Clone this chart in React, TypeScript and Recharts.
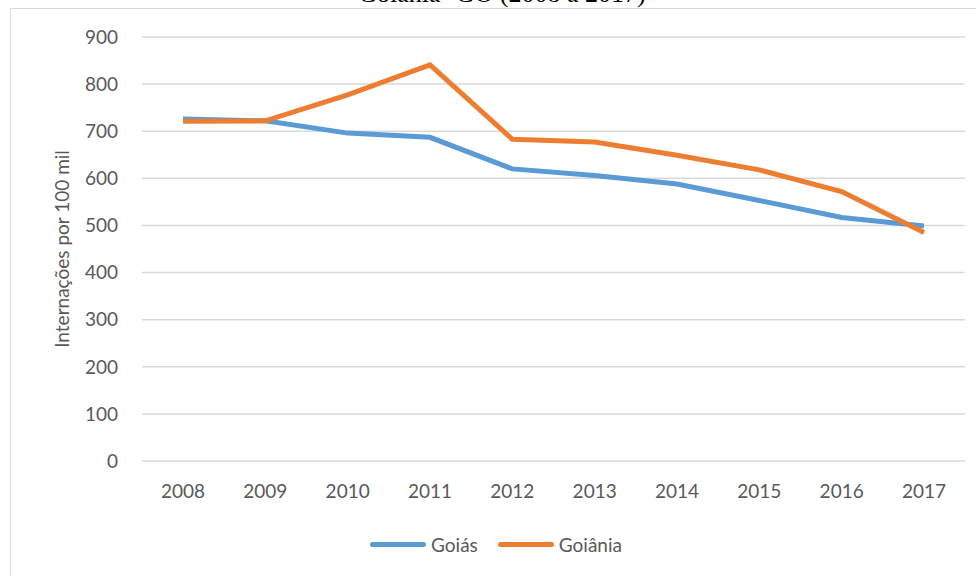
import React from "react";
import {
  LineChart,
  Line,
  XAxis,
  YAxis,
  CartesianGrid,
  Legend,
} from "recharts";

const years = ["2008", "2009", "2010", "2011", "2012", "2013", "2014", "2015", "2016", "2017"];
const goias = [726, 722, 696, 687, 620, 606, 588, 553, 517, 499];
const goiania = [721, 722, 777, 841, 683, 677, 649, 618, 572, 485];
const yTicks = [0, 100, 200, 300, 400, 500, 600, 700, 800, 900];

const data = years.map((year, i) => ({
  year,
  goias: goias[i],
  goiania: goiania[i],
}));

const FONT = "Lato, 'Open Sans', sans-serif";
const TEXT = "#595959";

const renderLegend = (props: any) => {
  const { payload } = props;
  return (
    <div style={{ display: "flex", justifyContent: "center", fontFamily: FONT, fontSize: 19, color: TEXT }}>
      {payload.map((entry: any) => (
        <div key={entry.value} style={{ display: "flex", alignItems: "center", marginRight: 20 }}>
          <span
            style={{
              display: "inline-block",
              width: 56,
              height: 5,
              borderRadius: 3,
              background: entry.color,
              marginRight: 5,
            }}
          />
          <span>{entry.value}</span>
        </div>
      ))}
    </div>
  );
};

const App: React.FC = () => {
  return (
    <div style={{ position: "absolute", left: 0, top: 0, width: 976, height: 576, overflow: "hidden", background: "#fff" }}>
      <div
        style={{
          position: "absolute",
          top: -19,
          left: 0,
          width: 1004,
          textAlign: "center",
          fontFamily: "'Liberation Serif', 'Times New Roman', serif",
          fontSize: 26,
          lineHeight: "26px",
          color: "#000",
        }}
      >
        Goiânia- GO (2008 a 2017)
      </div>
      <div
        style={{
          position: "absolute",
          left: 10,
          top: 8,
          width: 990,
          height: 600,
          border: "1px solid #d9d9d9",
        }}
      />
      <div style={{ position: "absolute", left: 0, top: 0 }}>
        <LineChart
          width={976}
          height={576}
          data={data}
          margin={{ top: 37, right: 11, left: 22, bottom: 85 }}
        >
          <CartesianGrid vertical={false} stroke="#d9d9d9" strokeWidth={1.5} />
          <XAxis
            dataKey="year"
            axisLine={false}
            tickLine={false}
            padding={{ left: 41, right: 41 }}
            tick={{ fill: TEXT, fontSize: 19, fontFamily: FONT }}
            tickMargin={18}
            interval={0}
          />
          <YAxis
            width={120}
            domain={[0, 900]}
            ticks={yTicks}
            axisLine={false}
            tickLine={false}
            tickMargin={18}
            tick={{ fill: TEXT, fontSize: 19, fontFamily: FONT }}
            label={{
              value: "Internações por 100 mil",
              angle: -90,
              position: "center",
              dx: -20,
              style: { fill: TEXT, fontSize: 19, fontFamily: FONT, textAnchor: "middle" },
            }}
          />
          <Legend
            verticalAlign="middle"
            layout="horizontal"
            content={renderLegend}
            wrapperStyle={{ position: "absolute", top: 533, left: 0, width: 1012 }}
          />
          <Line
            type="linear"
            dataKey="goias"
            name="Goiás"
            stroke="#5B9BD5"
            strokeWidth={5}
            dot={false}
            isAnimationActive={false}
          />
          <Line
            type="linear"
            dataKey="goiania"
            name="Goiânia"
            stroke="#ED7D31"
            strokeWidth={5}
            dot={false}
            isAnimationActive={false}
          />
        </LineChart>
      </div>
    </div>
  );
};

export default App;
